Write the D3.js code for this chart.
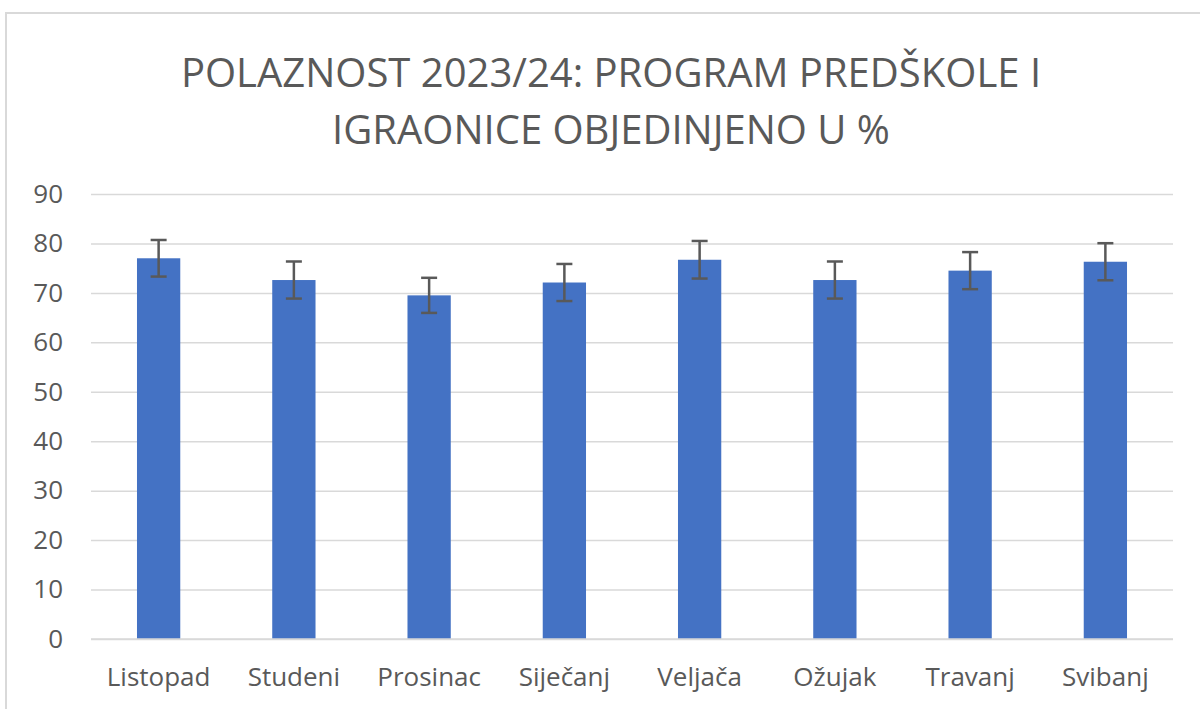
<!DOCTYPE html>
<html>
<head>
<meta charset="utf-8">
<script src="https://cdn.jsdelivr.net/npm/d3@7"></script>
<style>
  body { margin: 0; background: #fff; }
  text { font-family: "Open Sans", sans-serif; fill: #595959; }
</style>
</head>
<body>
<script>
// months of school year 2023/24
var months = ['Listopad', 'Studeni', 'Prosinac', 'Siječanj', 'Veljača', 'Ožujak', 'Travanj', 'Svibanj'];
var attendance = [77.0, 72.6, 69.5, 72.1, 76.7, 72.6, 74.5, 76.3];
var errors = [3.7, 3.75, 3.55, 3.75, 3.8, 3.75, 3.75, 3.75];
var yTicks = [0, 10, 20, 30, 40, 50, 60, 70, 80, 90];
var titleLines = ['POLAZNOST 2023/24: PROGRAM PREDŠKOLE I', 'IGRAONICE OBJEDINJENO U %'];

var W = 1200, H = 709;
var plot = {left: 91, right: 1173, top: 194, bottom: 639};

var svg = d3.select('body').append('svg')
  .attr('width', W)
  .attr('height', H);

// chart frame
svg.append('rect')
  .attr('x', 6).attr('y', 13)
  .attr('width', 1220).attr('height', 720)
  .attr('fill', 'none')
  .attr('stroke', '#d9d9d9')
  .attr('stroke-width', 2);

var x = d3.scaleBand()
  .domain(months)
  .range([plot.left, plot.right])
  .paddingInner(0.68)
  .paddingOuter(0.34);

var y = d3.scaleLinear()
  .domain([0, 90])
  .range([plot.bottom, plot.top]);

// title
svg.selectAll('.title')
  .data(titleLines)
  .enter().append('text')
  .attr('class', 'title')
  .attr('x', 611)
  .attr('y', function (d, i) { return 87 + i * 57; })
  .attr('text-anchor', 'middle')
  .style('font-size', '40px')
  .text(function (d) { return d; });

// gridlines + y axis labels
var yAxis = d3.axisLeft(y)
  .tickValues(yTicks)
  .tickSize(-(plot.right - plot.left))
  .tickPadding(28);

var gy = svg.append('g')
  .attr('transform', 'translate(' + plot.left + ',0)')
  .call(yAxis);
gy.select('.domain').remove();
gy.selectAll('line')
  .attr('stroke', '#d9d9d9')
  .attr('stroke-width', 1.5);
gy.selectAll('text')
  .style('font-size', '26px')
  .style('font-family', '"Open Sans", sans-serif')
  .attr('fill', '#595959');

// bars
svg.selectAll('.bar')
  .data(attendance)
  .enter().append('rect')
  .attr('class', 'bar')
  .attr('x', function (d, i) { return x(months[i]); })
  .attr('y', function (d) { return y(d); })
  .attr('width', x.bandwidth())
  .attr('height', function (d) { return y(0) - y(d); })
  .attr('fill', '#4472c4');

// error bars
var eb = svg.selectAll('.err')
  .data(attendance)
  .enter().append('g')
  .attr('class', 'err')
  .attr('stroke', '#595959')
  .attr('stroke-width', 2.5);

function cx(i) { return x(months[i]) + x.bandwidth() / 2; }

eb.append('line')
  .attr('x1', function (d, i) { return cx(i); })
  .attr('x2', function (d, i) { return cx(i); })
  .attr('y1', function (d, i) { return y(d + errors[i]); })
  .attr('y2', function (d, i) { return y(d - errors[i]); });
eb.append('line')
  .attr('x1', function (d, i) { return cx(i) - 8; })
  .attr('x2', function (d, i) { return cx(i) + 8; })
  .attr('y1', function (d, i) { return y(d + errors[i]); })
  .attr('y2', function (d, i) { return y(d + errors[i]); });
eb.append('line')
  .attr('x1', function (d, i) { return cx(i) - 8; })
  .attr('x2', function (d, i) { return cx(i) + 8; })
  .attr('y1', function (d, i) { return y(d - errors[i]); })
  .attr('y2', function (d, i) { return y(d - errors[i]); });

// x axis labels
var xAxis = d3.axisBottom(x).tickSize(0).tickPadding(29);
var gx = svg.append('g')
  .attr('transform', 'translate(0,' + plot.bottom + ')')
  .call(xAxis);
gx.select('.domain')
  .attr('stroke', '#d9d9d9')
  .attr('stroke-width', 1.5)
  .attr('d', 'M' + plot.left + ',0H' + plot.right);
gx.selectAll('text')
  .style('font-size', '26px')
  .style('font-family', '"Open Sans", sans-serif')
  .attr('fill', '#595959');
</script>
</body>
</html>
